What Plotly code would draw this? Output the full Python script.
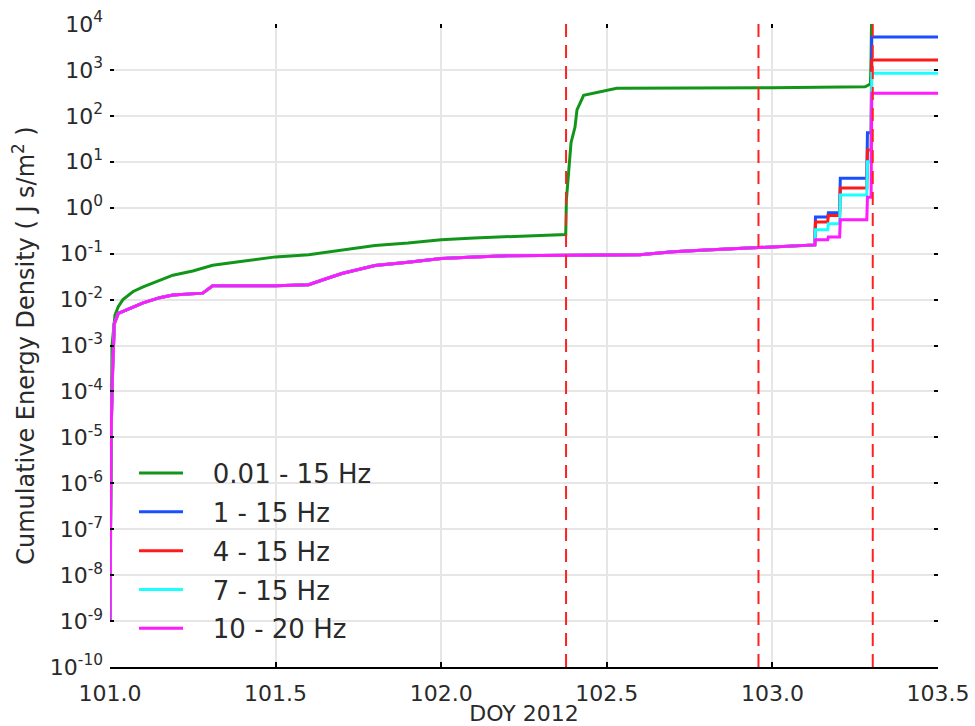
import plotly.graph_objects as go

# ---------------- data ----------------
doy_green = [101.000, 101.003, 101.006, 101.015, 101.025, 101.039, 101.07, 101.10, 101.15, 101.19,
             101.25, 101.31, 101.40, 101.50, 101.60, 101.70, 101.80, 101.90, 102.00, 102.10,
             102.20, 102.30, 102.376, 102.378, 102.385, 102.392, 102.404, 102.41, 102.43, 102.48,
             102.53, 103.00, 103.28, 103.29, 103.296, 103.298, 103.300, 103.50]
e_green = [1e-9, 3e-5, 1e-3, 4.6e-3, 7e-3, 1e-2, 1.5e-2, 1.9e-2, 2.6e-2, 3.4e-2,
           4.2e-2, 5.6e-2, 6.8e-2, 8.5e-2, 9.5e-2, 0.12, 0.15, 0.17, 0.20, 0.22,
           0.235, 0.25, 0.26, 1.5, 6.6, 26, 57, 135, 280, 330,
           400, 410, 430, 470, 500, 2000, 3e4, 3e4]

doy_hf = [101.000, 101.003, 101.008, 101.013, 101.025, 101.05, 101.10, 101.15, 101.19, 101.28,
          101.31, 101.50, 101.60, 101.65, 101.70, 101.75, 101.80, 101.90, 102.00, 102.10,
          102.20, 102.60, 102.70, 102.80, 102.90, 103.00, 103.10, 103.128,
          103.130, 103.167, 103.169, 103.203, 103.205, 103.285, 103.287, 103.298, 103.300, 103.50]

base_hf = [1e-9, 1e-5, 3e-4, 3e-3, 5e-3, 6e-3, 8.5e-3, 1.1e-2, 1.26e-2, 1.38e-2,
           2.0e-2, 2.0e-2, 2.1e-2, 2.8e-2, 3.7e-2, 4.5e-2, 5.5e-2, 6.5e-2, 7.8e-2, 8.5e-2,
           9.0e-2, 9.5e-2, 0.11, 0.12, 0.13, 0.14, 0.15, 0.155]

tail_1_15 = [0.63, 0.63, 0.78, 0.78, 4.4, 4.4, 43, 43, 5200, 5200]
tail_4_15 = [0.49, 0.49, 0.68, 0.68, 2.7, 2.7, 18, 18, 1650, 1650]
tail_7_15 = [0.33, 0.33, 0.45, 0.45, 1.9, 1.9, 10, 10, 850, 850]
tail_10_20 = [0.20, 0.20, 0.23, 0.23, 0.55, 0.55, 1.7, 1.7, 310, 310]

e_1_15 = base_hf + tail_1_15
e_4_15 = base_hf + tail_4_15
e_7_15 = base_hf + tail_7_15
e_10_20 = base_hf + tail_10_20

series_names = ["0.01 - 15 Hz", "1 - 15 Hz", "4 - 15 Hz", "7 - 15 Hz", "10 - 20 Hz"]
series_colors = ["#12961a", "#1a4fff", "#ff1a1a", "#1affff", "#ff1aff"]

event_doy = [102.377, 102.958, 103.303]

y_tick_exp = list(range(-10, 5))
x_ticks = [101.0, 101.5, 102.0, 102.5, 103.0, 103.5]

# ---------------- figure ----------------
FONT = "DejaVu Sans"
TXT = "#2a2a2a"
PAD = "\u00a0\u00a0\u00a0"  # gap between legend sample and label

fig = go.Figure()
xs = [doy_green, doy_hf, doy_hf, doy_hf, doy_hf]
ys = [e_green, e_1_15, e_4_15, e_7_15, e_10_20]
for i, (x, y) in enumerate(zip(xs, ys)):
    fig.add_trace(go.Scatter(
        x=x, y=y, mode="lines", name=PAD + series_names[i],
        line=dict(color=series_colors[i], width=3),
        legendgroup=f"g{i}",
    ))

for d in event_doy:
    fig.add_shape(type="line", xref="x", yref="paper", x0=d, x1=d, y0=0, y1=1,
                  line=dict(color="#ff2020", width=2, dash="13px,8px"), layer="above")

fig.update_layout(
    width=975, height=726,
    margin=dict(l=110, r=37, t=24, b=59, autoexpand=False),
    paper_bgcolor="white", plot_bgcolor="white",
    font=dict(family=FONT, color=TXT, size=21),
    showlegend=True,
    legend=dict(
        x=0.029, y=0.338, xanchor="left", yanchor="top",
        bgcolor="rgba(0,0,0,0)", borderwidth=0,
        font=dict(family=FONT, size=26, color=TXT),
        tracegroupgap=2, itemwidth=44,
    ),
    xaxis=dict(
        range=[101.0, 103.5], tickvals=x_ticks,
        ticktext=[f"{v:.1f}" for v in x_ticks],
        showgrid=True, gridcolor="#e6e6e6", gridwidth=1.5,
        showline=True, linecolor="black", linewidth=2,
        ticks="inside", ticklen=5, tickcolor="black", tickwidth=2,
        tickfont=dict(size=22), zeroline=False, automargin=False,
        ticklabelstandoff=6,
        title=dict(text="DOY 2012", font=dict(size=22), standoff=4),
    ),
    yaxis=dict(
        type="log", range=[-10, 4],
        tickvals=[10.0 ** e for e in y_tick_exp],
        ticktext=[f"10<sup>{e}</sup>" for e in y_tick_exp],
        showgrid=True, gridcolor="#e6e6e6", gridwidth=1.5,
        showline=False, zeroline=False, automargin=False,
        ticks="inside", ticklen=4, tickcolor="black", tickwidth=2,
        tickfont=dict(size=22), ticklabelstandoff=6,
        title=dict(text="Cumulative Energy Density ( J s/m<sup>2</sup> )", font=dict(size=24), standoff=8),
    ),
    xaxis2=dict(
        range=[101.0, 103.5], overlaying="x", side="top", tickvals=x_ticks,
        showticklabels=False, showgrid=False, zeroline=False, automargin=False,
        ticks="inside", ticklen=4, tickcolor="black", tickwidth=2,
    ),
    yaxis2=dict(
        type="log", range=[-10, 4], overlaying="y", side="right",
        tickvals=[10.0 ** e for e in y_tick_exp],
        showticklabels=False, showgrid=False, zeroline=False, automargin=False,
        ticks="inside", ticklen=4, tickcolor="black", tickwidth=2,
    ),
)

fig.add_trace(go.Scatter(x=[None], y=[None], xaxis="x2", yaxis="y2",
                         showlegend=False, hoverinfo="skip"))

fig.write_html("out.html")
